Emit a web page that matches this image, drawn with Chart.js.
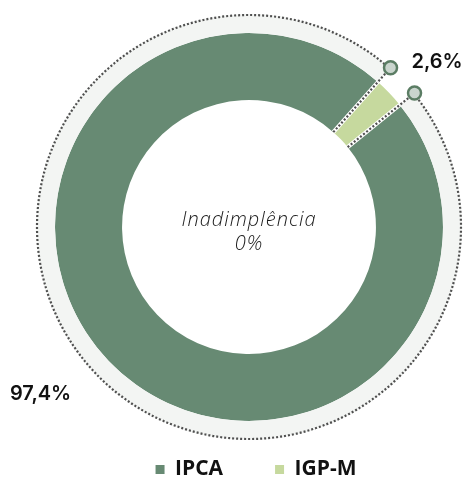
<!DOCTYPE html>
<html><head><meta charset="utf-8">
<script src="https://cdn.jsdelivr.net/npm/chart.js@4/dist/chart.umd.min.js"></script>
<style>html,body{margin:0;padding:0;background:#fff;} canvas{display:block}</style>
</head><body>
<canvas id="c" width="463" height="480"></canvas>
<script>
const categories = ['IPCA', 'IGP-M'];
const shares = [97.4, 2.6];
const shareLabels = ['97,4%', '2,6%'];
const centerLines = ['Inadimplência', '0%'];

const COLORS = ['#678a73', '#c6d99e'];
const BAND = ['#f3f5f3', 'rgba(255,255,255,0)'];

const decor = {
  id: 'decor',
  afterLayout(chart) {
    const lg = chart.legend;
    if (!lg) return;
    const pad = lg.options.labels.padding;
    lg.top = chart.chartArea.bottom + 19 - pad;
    lg.bottom = chart.height;
    lg.left += 14;
  },
  afterDatasetsDraw(chart) {
    const ctx = chart.ctx;
    const band = chart.getDatasetMeta(0).data;
    const main = chart.getDatasetMeta(1).data;
    const a0 = main[0], a1 = main[1];
    const cx = a0.x, cy = a0.y;
    const R = band[0].outerRadius;
    const rIn = a0.innerRadius, rOut = a0.outerRadius;
    const bounds = [a1.startAngle, a1.endAngle];
    const pt = (a, r) => [cx + r * Math.cos(a), cy + r * Math.sin(a)];
    ctx.save();
    ctx.lineCap = 'butt';
    ctx.strokeStyle = '#ffffff'; ctx.lineWidth = 4; ctx.setLineDash([]);
    bounds.forEach(a => {
      const p = pt(a, rIn), q = pt(a, rOut);
      ctx.beginPath(); ctx.moveTo(p[0], p[1]); ctx.lineTo(q[0], q[1]); ctx.stroke();
    });
    ctx.strokeStyle = '#4f4f4f'; ctx.lineWidth = 2.2; ctx.setLineDash([2, 2]);
    bounds.forEach(a => {
      const p = pt(a, rIn), q = pt(a, R);
      ctx.beginPath(); ctx.moveTo(p[0], p[1]); ctx.lineTo(q[0], q[1]); ctx.stroke();
    });
    ctx.beginPath(); ctx.arc(cx, cy, R - 1, a0.startAngle, a0.endAngle); ctx.stroke();
    ctx.setLineDash([]);
    bounds.forEach(a => {
      const p = pt(a, R);
      ctx.beginPath(); ctx.arc(p[0], p[1], 6.5, 0, Math.PI * 2);
      ctx.fillStyle = '#cad5ce'; ctx.fill();
      ctx.strokeStyle = '#5b7d64'; ctx.lineWidth = 2.5; ctx.stroke();
    });
    ctx.fillStyle = '#111';
    ctx.font = '600 20px Inter';
    ctx.textBaseline = 'middle';
    ctx.textAlign = 'left';
    const m = pt(a1.startAngle, R);
    ctx.fillText(shareLabels[1], m[0] + 21, m[1] - 6);
    const mid = (a0.startAngle + a0.endAngle) / 2 + 5 * Math.PI / 180;
    const l = pt(mid, R + 54);
    ctx.textAlign = 'center';
    ctx.fillText(shareLabels[0], l[0], l[1]);
    ctx.fillStyle = '#1a1a1a';
    ctx.font = 'italic 300 20px "Open Sans"';
    ctx.letterSpacing = '1px';
    ctx.fillText(centerLines[0], cx, cy - 7);
    ctx.fillText(centerLines[1], cx, cy + 17);
    ctx.restore();
  }
};

new Chart(document.getElementById('c'), {
  type: 'doughnut',
  data: {
    labels: categories,
    datasets: [
      { data: shares, backgroundColor: BAND, borderWidth: 0, weight: 19 },
      { data: shares, backgroundColor: COLORS, borderWidth: 0, weight: 67 }
    ]
  },
  options: {
    responsive: false,
    animation: false,
    devicePixelRatio: 1,
    rotation: 51,
    cutout: '59.6%',
    hoverOffset: 0,
    layout: { padding: { top: 14, left: 35, right: 0, bottom: 0 } },
    plugins: {
      tooltip: { enabled: false },
      legend: {
        position: 'bottom',
        maxHeight: 40,
        labels: {
          boxWidth: 9,
          boxHeight: 9,
          padding: 52,
          color: '#111',
          font: { family: '"Open Sans"', size: 21, weight: 'bold' },
          generateLabels: () => categories.map((c, i) => ({
            text: c, fillStyle: COLORS[i], strokeStyle: COLORS[i], lineWidth: 0,
            hidden: false, index: i, datasetIndex: 1, fontColor: '#111'
          }))
        }
      }
    }
  },
  plugins: [decor]
});
</script>
</body></html>
